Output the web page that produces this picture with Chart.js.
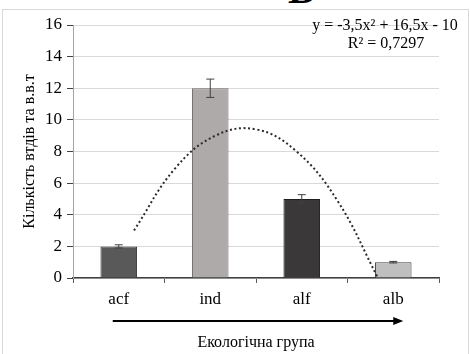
<!DOCTYPE html>
<html>
<head>
<meta charset="utf-8">
<script src="https://cdn.jsdelivr.net/npm/chart.js@4.4.1/dist/chart.umd.min.js"></script>
<style>
  body { margin: 0; background: #fff; overflow: hidden; font-family: "Liberation Serif", serif; }
  #wrap { position: relative; width: 470px; height: 354px; }
  #frame { position: absolute; left: 2px; top: 9px; width: 465px; height: 400px; border: 1px solid #d9d9d9; }
  #letter { position: absolute; left: 288px; top: -34px; font: bold 40px "Liberation Serif", serif; color: #000; }
  canvas { position: absolute; left: 0; top: 0; }
</style>
</head>
<body>
<div id="wrap">
  <div id="frame"></div>
  <div id="letter">В</div>
  <canvas id="chart" width="470" height="354"></canvas>
</div>
<script>
// ─── Data ──────────────────────────────────────────────────────────────────────
const groups = ["acf", "ind", "alf", "alb"];
const counts = [2, 12, 5, 1];
const errors = [0.1, 0.58, 0.27, 0.05];
const barColors = ["#595959", "#aeaaaa", "#3a3838", "#bfbfbf"];
const barBorders = ["#3a3a3a", "#6e6a6a", "#1e1e1e", "#404040"];
// trendline (x = group position 1..4)
const trendX = [1, 1.5, 2, 2.5, 3, 3.5, 4];
const trendY = [3, 6.9, 9, 9.4, 8, 4.9, 0];
const yTicks = [0, 2, 4, 6, 8, 10, 12, 14, 16];

const serif = "Liberation Serif";
Chart.defaults.font.family = serif;
Chart.defaults.color = "#000";

// ─── Error bars ────────────────────────────────────────────────────────────────
const errorBars = {
  id: "errorBars",
  afterDatasetsDraw(chart) {
    const ctx = chart.ctx;
    const meta = chart.getDatasetMeta(0);
    const y = chart.scales.y;
    ctx.save();
    ctx.strokeStyle = "#404040";
    ctx.lineWidth = 1;
    meta.data.forEach((bar, i) => {
      const top = y.getPixelForValue(counts[i] + errors[i]);
      const bot = y.getPixelForValue(counts[i] - errors[i]);
      ctx.beginPath();
      ctx.moveTo(bar.x, top); ctx.lineTo(bar.x, bot);
      ctx.moveTo(bar.x - 4, top); ctx.lineTo(bar.x + 4, top);
      ctx.moveTo(bar.x - 4, bot); ctx.lineTo(bar.x + 4, bot);
      ctx.stroke();
    });
    ctx.restore();
  }
};

// ─── Equation, arrow ───────────────────────────────────────────────────────────
const extras = {
  id: "extras",
  afterDraw(chart) {
    const ctx = chart.ctx;
    const x = chart.scales.x;
    ctx.save();
    ctx.fillStyle = "#000";
    ctx.font = "16px " + serif;
    ctx.textAlign = "center";
    ctx.textBaseline = "middle";
    ctx.fillText("y = -3,5x² + 16,5x - 10", 385, 26);
    ctx.fillText("R² = 0,7297", 386, 44);

    // arrow under the group labels
    const x0 = x.getPixelForValue(0) - 6;
    const x1 = x.getPixelForValue(3) + 8;
    const ay = 321;
    ctx.strokeStyle = "#000";
    ctx.lineWidth = 2;
    ctx.beginPath();
    ctx.moveTo(x0, ay); ctx.lineTo(x1 - 6, ay);
    ctx.stroke();
    ctx.beginPath();
    ctx.moveTo(x1 + 2, ay); ctx.lineTo(x1 - 8, ay - 4); ctx.lineTo(x1 - 8, ay + 4);
    ctx.closePath();
    ctx.fill();
    ctx.restore();
  }
};

new Chart(document.getElementById("chart"), {
  type: "bar",
  data: {
    labels: groups,
    datasets: [
      {
        data: counts,
        backgroundColor: barColors,
        borderColor: barBorders,
        borderWidth: 1,
        grouped: false,
        barPercentage: 0.4,
        categoryPercentage: 1,
        order: 2
      },
      {
        type: "line",
        xAxisID: "xt",
        data: trendX.map((v, i) => ({ x: v, y: trendY[i] })),
        borderColor: "#2b2b2b",
        borderWidth: 2,
        borderDash: [2, 2.6],
        pointRadius: 0,
        tension: 0.4,
        fill: false,
        order: 1
      }
    ]
  },
  options: {
    responsive: false,
    animation: false,
    layout: { padding: { top: 25, right: 31, left: 0, bottom: 0 } },
    plugins: {
      legend: { display: false },
      tooltip: { enabled: false }
    },
    scales: {
      x: {
        type: "category",
        offset: true,
        afterFit: s => { s.height = 76; },
        grid: { offset: true, drawOnChartArea: false, tickLength: 5, tickColor: "#595959" },
        border: { color: "#404040", width: 1.5 },
        ticks: { color: "#000", font: { family: serif, size: 17 }, padding: 6 },
        title: {
          display: true,
          text: "Екологічна група",
          color: "#000",
          font: { family: serif, size: 16 },
          padding: { top: 22, bottom: 2 }
        }
      },
      xt: {
        type: "linear",
        display: false,
        min: 0.5,
        max: 4.5
      },
      y: {
        min: 0,
        max: 16,
        afterFit: s => { s.width = 73; },
        afterBuildTicks: s => { s.ticks = yTicks.map(v => ({ value: v })); },
        grid: { color: "#d9d9d9", tickColor: "#404040", tickLength: 6 },
        border: { color: "#a6a6a6", width: 1 },
        ticks: { color: "#000", font: { family: serif, size: 17 }, padding: 5 },
        title: {
          display: true,
          text: "Кількість втдів та в.в.т",
          color: "#000",
          font: { family: serif, size: 16 },
          padding: { top: 20, bottom: 0 }
        }
      }
    }
  },
  plugins: [errorBars, extras]
});
</script>
</body>
</html>
